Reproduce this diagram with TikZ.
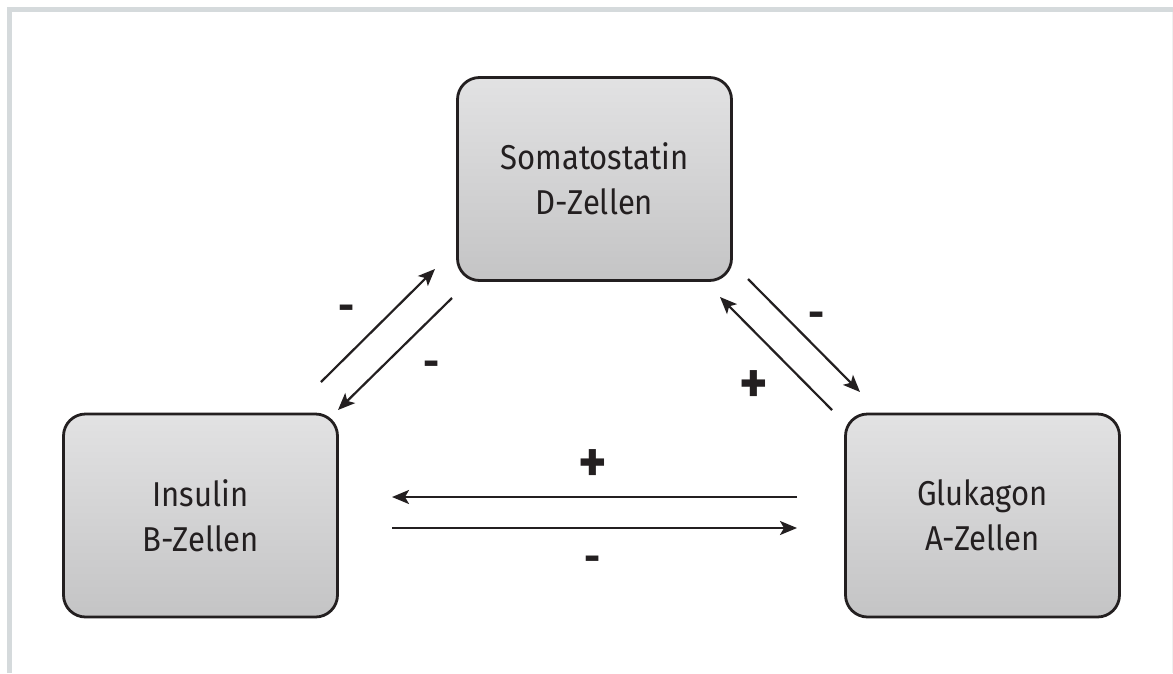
\documentclass[tikz,border=0pt]{standalone}
\usepackage{fontspec}
\setmainfont{Fira Sans}[FakeStretch=0.9]
\usetikzlibrary{arrows.meta}
\definecolor{framegray}{HTML}{D5DADC}
\definecolor{boxline}{HTML}{231F20}
\definecolor{boxtop}{HTML}{E2E2E3}
\definecolor{boxbot}{HTML}{C4C4C5}
\tikzset{
  cellbox/.style={draw=boxline, line width=2.8pt, rounded corners=22pt,
    top color=boxtop, bottom color=boxbot, minimum width=274pt, minimum height=203pt,
    align=center, font=\fontsize{34.5}{45}\selectfont, text=boxline},
  conn/.style={draw=boxline, line width=2.2pt, -{Stealth[length=17pt,width=14pt,inset=4pt]}},
  minus/.style={font=\fontsize{44}{44}\selectfont\bfseries, text=boxline, inner sep=0pt, anchor=base},
  plus/.style={font=\fontsize{60}{60}\selectfont\bfseries, text=boxline, inner sep=0pt, anchor=base},
}
\begin{document}
\begin{tikzpicture}[x=1pt,y=-1pt]
\useasboundingbox (0,0) rectangle (1173,673);
\fill[white] (0,0) rectangle (1173,673);
% frame
\fill[framegray] (7,7) rectangle (1173,12);
\fill[framegray] (7,7) rectangle (11.5,673);
\fill[black!6] (1171.8,12) rectangle (1173,673);
% boxes
\node[cellbox] (S) at (594.5,179) {Somatostatin\\D-Zellen};
\node[cellbox] (I) at (200.5,515.5) {Insulin\\B-Zellen};
\node[cellbox] (G) at (982.5,515.5) {Glukagon\\A-Zellen};
% connector end points
\coordinate (a1) at (321,382);
\coordinate (a2) at (435,269);
\coordinate (b1) at (452,298);
\coordinate (b2) at (338,410);
\coordinate (c1) at (748,279);
\coordinate (c2) at (860,392);
\coordinate (d1) at (832,410);
\coordinate (d2) at (720,297);
\coordinate (e1) at (797,497);
\coordinate (e2) at (392,497);
\coordinate (f1) at (392,528);
\coordinate (f2) at (797,528);
% connectors
\draw[conn] (a1) -- (a2);
\draw[conn] (b1) -- (b2);
\draw[conn] (c1) -- (c2);
\draw[conn] (d1) -- (d2);
\draw[conn] (e1) -- (e2);
\draw[conn] (f1) -- (f2);
% signs
\node[minus] (s1) at (347,321) {-};
\node[minus] (s2) at (432,377) {-};
\node[minus] (s3) at (817,328) {-};
\node[plus] (s4) at (754,403) {+};
\node[plus] (s5) at (593,482) {+};
\node[minus] (s6) at (593,572) {-};
\end{tikzpicture}
\end{document}
